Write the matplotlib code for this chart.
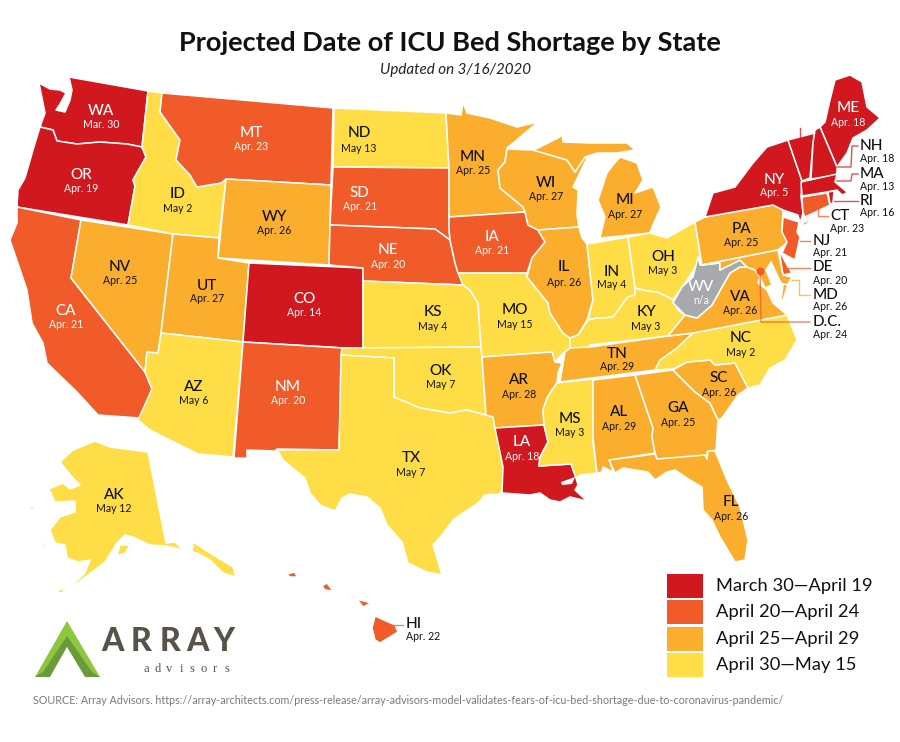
import matplotlib
matplotlib.use('Agg')
import matplotlib.pyplot as plt

plt.rcParams['font.family'] = ['Lato', 'DejaVu Sans']

# Data
states = ['WA', 'OR', 'CA', 'NV', 'ID', 'MT', 'WY', 'UT', 'CO', 'AZ', 'NM', 'ND', 'SD', 'NE', 'KS', 'OK', 'TX',
          'MN', 'IA', 'MO', 'AR', 'LA', 'WI', 'IL', 'MI', 'IN', 'OH', 'KY', 'TN', 'MS', 'AL', 'GA', 'SC', 'FL',
          'NC', 'VA', 'WV', 'PA', 'NY', 'ME', 'VT', 'NH', 'MA', 'RI', 'CT', 'NJ', 'DE', 'MD', 'D.C.', 'AK', 'HI']
dates = ['Mar. 30', 'Apr. 19', 'Apr. 21', 'Apr. 25', 'May 2', 'Apr. 23', 'Apr. 26', 'Apr. 27', 'Apr. 14', 'May 6',
         'Apr. 20', 'May 13', 'Apr. 21', 'Apr. 20', 'May 4', 'May 7', 'May 7',
         'Apr. 25', 'Apr. 21', 'May 15', 'Apr. 28', 'Apr. 18', 'Apr. 27', 'Apr. 26', 'Apr. 27', 'May 4', 'May 3',
         'May 3', 'Apr. 29', 'May 3', 'Apr. 29', 'Apr. 25', 'Apr. 26', 'Apr. 26',
         'May 2', 'Apr. 26', 'n/a', 'Apr. 25', 'Apr. 5', 'Apr. 18', 'Apr. 14', 'Apr. 18', 'Apr. 13', 'Apr. 16',
         'Apr. 23', 'Apr. 21', 'Apr. 20', 'Apr. 26', 'Apr. 24', 'May 12', 'Apr. 22']

legend_labels = ['March 30\u2014April 19', 'April 20\u2014April 24', 'April 25\u2014April 29', 'April 30\u2014May 15']
colors = ['#d2181f', '#f15a29', '#fbae2d', '#ffdd47']
na_color = '#a7a9ac'
source = ('SOURCE: Array Advisors. https://array-architects.com/press-release/array-advisors-model-validates-'
          'fears-of-icu-bed-shortage-due-to-coronavirus-pandemic/')

# State outlines
outlines = {
    'WA': [[(39, 83), (50, 89), (60, 90), (66, 93), (60, 104), (56, 110), (65, 112), (70, 100), (72, 90), (69, 77),
            (148, 91), (142, 147), (127, 144), (100, 142), (77, 144), (57, 141), (53, 130), (40, 127), (45, 113)]],
    'OR': [[(40, 127), (53, 130), (57, 141), (77, 144), (100, 142), (127, 144), (142, 147), (146, 157), (133, 180),
            (135, 186), (128, 225), (17, 207), (18, 190), (25, 178), (33, 150)]],
    'CA': [[(17, 207), (81, 220), (71, 278), (145, 372), (152, 389), (140, 418), (98, 415), (77, 392), (47, 363),
            (43, 343), (32, 323), (27, 290), (10, 240), (17, 223)]],
    'NV': [[(81, 220), (173, 234), (161, 333), (158, 353), (147, 352), (145, 372), (71, 278)]],
    'ID': [[(148, 91), (162, 93), (160, 112), (180, 140), (176, 160), (190, 175), (197, 187), (221, 183), (226, 179),
            (219, 238), (173, 234), (128, 225), (135, 186), (133, 180), (146, 157), (142, 147)]],
    'MT': [[(162, 93), (333, 108), (331, 185), (226, 179), (221, 183), (197, 187), (190, 175), (176, 160), (180, 140),
            (160, 112)]],
    'WY': [[(226, 179), (331, 185), (329, 265), (218, 258)]],
    'UT': [[(173, 234), (219, 238), (218, 258), (249, 263), (243, 342), (161, 333)]],
    'CO': [[(249, 263), (363, 268), (363, 349), (243, 342)]],
    'AZ': [[(161, 333), (243, 342), (233, 457), (198, 454), (150, 430), (138, 420), (152, 389), (145, 372), (147, 352),
            (158, 353)]],
    'NM': [[(243, 342), (342, 348), (339, 450), (277, 449), (275, 451), (247, 450), (247, 458), (234, 458)]],
    'ND': [[(334, 108), (446, 113), (449, 168), (333, 167)]],
    'SD': [[(333, 167), (449, 168), (449, 217), (449, 228), (450, 240), (435, 229), (330, 225)]],
    'NE': [[(330, 225), (435, 229), (450, 240), (455, 263), (463, 285), (363, 281), (363, 268), (329, 265)]],
    'KS': [[(363, 281), (463, 285), (470, 290), (478, 303), (481, 347), (363, 349)]],
    'OK': [[(342, 348), (481, 347), (482, 357), (486, 415), (467, 410), (450, 413), (420, 408), (394, 397), (394, 358),
            (341, 355)]],
    'TX': [[(341, 355), (394, 358), (394, 397), (420, 408), (450, 413), (467, 410), (486, 415), (493, 417), (495, 427),
            (505, 465), (503, 487), (500, 494), (485, 495), (478, 503), (460, 515), (453, 520), (442, 535), (433, 545),
            (437, 558), (442, 575), (427, 572), (408, 563), (402, 542), (387, 525), (380, 508), (367, 497), (350, 494),
            (342, 498), (335, 511), (320, 505), (310, 493), (305, 478), (283, 460), (277, 450), (339, 450)]],
    'MN': [[(446, 113), (461, 115), (463, 102), (467, 113), (490, 118), (517, 127), (538, 122), (507, 148), (505, 162),
            (498, 170), (500, 188), (523, 207), (525, 212), (449, 217), (449, 168)]],
    'IA': [[(449, 217), (525, 212), (528, 225), (538, 230), (545, 242), (532, 258), (527, 273), (458, 273), (455, 263),
            (450, 240), (449, 228)]],
    'MO': [[(458, 273), (527, 273), (527, 277), (548, 303), (550, 313), (563, 333), (570, 338), (570, 348), (563, 353),
            (555, 362), (552, 352), (482, 357), (481, 347), (478, 303), (470, 290), (463, 285)]],
    'AR': [[(482, 357), (552, 352), (555, 362), (562, 363), (558, 373), (557, 383), (552, 390), (547, 398), (543, 410),
            (544, 425), (495, 428), (493, 417), (486, 415)]],
    'LA': [[(495, 428), (544, 425), (548, 442), (540, 457), (539, 466), (571, 464), (576, 478), (578, 485), (575, 490),
            (587, 501), (570, 497), (560, 502), (550, 500), (540, 493), (530, 495), (502, 493), (503, 467)]],
    'WI': [[(507, 149), (533, 150), (567, 160), (575, 172), (583, 157), (587, 158), (573, 187), (578, 190), (577, 215),
            (579, 227), (538, 230), (528, 225), (525, 212), (523, 207), (500, 188), (498, 170), (505, 162)]],
    'IL': [[(538, 230), (579, 227), (582, 238), (587, 244), (593, 300), (587, 320), (578, 335), (570, 338), (563, 333),
            (550, 313), (548, 303), (527, 277), (532, 258), (545, 242)]],
    'MI': [[(540, 147), (558, 138), (562, 135), (563, 142), (590, 143), (607, 143), (627, 143), (635, 150), (617, 153),
            (597, 153), (585, 157), (575, 172), (567, 160), (533, 150)],
           [(598, 200), (607, 173), (613, 165), (620, 157), (637, 163), (643, 180), (635, 193), (653, 187), (661, 207),
            (652, 227), (650, 233), (600, 238), (605, 217)]],
    'IN': [[(587, 244), (628, 237), (635, 288), (635, 295), (628, 297), (623, 303), (620, 308), (613, 317), (603, 318),
            (597, 318), (588, 320), (593, 300)]],
    'OH': [[(628, 237), (650, 233), (667, 238), (695, 222), (700, 255), (698, 263), (687, 280), (673, 300), (668, 297),
            (657, 292), (647, 291), (635, 288)]],
    'KY': [[(635, 288), (647, 291), (657, 292), (668, 297), (673, 300), (678, 310), (685, 315), (668, 336), (590, 345),
            (588, 348), (570, 348), (570, 338), (578, 335), (588, 320), (597, 318), (603, 318), (613, 317), (620, 308),
            (623, 303), (628, 297), (635, 295)]],
    'TN': [[(590, 347), (668, 336), (693, 333), (677, 348), (655, 370), (560, 382), (565, 352), (570, 348)]],
    'MS': [[(557, 383), (593, 379), (593, 443), (597, 473), (580, 475), (576, 478), (571, 464), (539, 466), (540, 457),
            (548, 442), (544, 425), (543, 410), (547, 398), (552, 390)]],
    'AL': [[(593, 380), (635, 375), (653, 428), (652, 437), (655, 453), (610, 460), (613, 472), (603, 467), (602, 472),
            (597, 473), (593, 437)]],
    'GA': [[(635, 375), (673, 370), (680, 377), (695, 392), (710, 403), (718, 420), (716, 450), (707, 452), (707, 458),
            (657, 459), (655, 453), (652, 437), (653, 428)]],
    'SC': [[(673, 370), (687, 362), (710, 360), (715, 365), (735, 363), (748, 388), (738, 395), (722, 418), (718, 420),
            (710, 403), (695, 392), (680, 377)]],
    'FL': [[(609, 460), (655, 454), (657, 459), (705, 455), (707, 459), (708, 451), (715, 451), (727, 480), (740, 507),
            (748, 540), (745, 560), (735, 562), (720, 537), (712, 520), (703, 510), (702, 487), (690, 480), (675, 470),
            (667, 472), (655, 480), (648, 472), (623, 468), (615, 473)]],
    'NC': [[(655, 370), (660, 360), (677, 348), (693, 333), (787, 315), (797, 340), (785, 360), (770, 368), (760, 385),
            (748, 388), (735, 363), (715, 365), (710, 360), (687, 362), (673, 369)]],
    'VA': [[(668, 336), (685, 315), (697, 318), (712, 305), (722, 287), (730, 273), (740, 267), (747, 267), (755, 270),
            (760, 277), (758, 283), (767, 290), (773, 303), (787, 315), (693, 333)],
           [(790, 278), (783, 300), (781, 300), (783, 285)]],
    'WV': [[(698, 257), (700, 265), (720, 263), (720, 270), (740, 260), (747, 267), (740, 267), (730, 273), (722, 287),
            (712, 305), (697, 318), (685, 315), (673, 303), (682, 287), (693, 277)]],
    'PA': [[(695, 222), (705, 217), (773, 205), (783, 210), (782, 232), (790, 240), (778, 250), (702, 265)]],
    'NY': [[(705, 217), (713, 193), (735, 187), (753, 163), (767, 147), (788, 140), (802, 181), (801, 197), (803, 213),
            (800, 223), (798, 215), (783, 210), (773, 205)]],
    'ME': [[(820, 127), (825, 122), (830, 100), (835, 80), (850, 75), (862, 82), (867, 107), (880, 118), (867, 130),
            (853, 138), (847, 153), (837, 167)]],
    'VT': [[(788, 140), (815, 133), (813, 143), (810, 178), (802, 181)]],
    'NH': [[(815, 130), (820, 127), (837, 167), (837, 175), (811, 179), (813, 143)]],
    'MA': [[(801, 182), (837, 174), (835, 182), (847, 192), (853, 190), (842, 195), (837, 190), (827, 192), (802, 196)]],
    'RI': [[(828, 192), (834, 191), (833, 203), (830, 204)]],
    'CT': [[(802, 197), (827, 193), (830, 205), (805, 217), (803, 213)],
           [(800, 225), (818, 215), (805, 225)]],
    'NJ': [[(783, 217), (799, 222), (797, 232), (800, 237), (795, 260), (782, 253), (787, 242), (782, 232)]],
    'DE': [[(779, 250), (788, 267), (792, 273), (783, 275)]],
    'MD': [[(702, 265), (778, 250), (783, 275), (792, 277), (787, 285), (781, 283), (771, 262), (766, 270), (772, 285),
            (765, 288), (760, 277), (755, 270), (747, 267), (740, 260), (720, 270), (720, 263)]],
    'AK': [[(60, 462), (73, 450), (95, 441), (110, 447), (148, 452), (166, 543), (175, 542), (180, 547), (192, 553),
            (193, 542), (210, 553), (233, 567), (236, 577), (223, 573), (210, 560), (197, 553), (166, 546), (150, 545),
            (133, 537), (125, 535), (117, 543), (105, 562), (88, 575), (69, 589), (72, 585), (85, 573), (90, 560),
            (78, 562), (67, 558), (65, 545), (55, 543), (50, 530), (60, 517), (75, 512), (75, 501), (55, 502), (49, 489),
            (63, 483), (70, 489), (80, 485), (73, 478)],
           [(120, 545), (130, 545), (125, 553), (117, 556)],
           [(102, 577), (112, 573), (108, 577)],
           [(57, 591), (62, 589), (65, 592), (59, 593)],
           [(43, 600), (49, 597), (46, 600)],
           [(28, 505), (33, 507), (35, 511), (30, 508)],
           [(41, 543), (46, 543), (45, 546)]],
    'HI': [[(375, 616), (395, 625), (398, 632), (380, 643), (375, 640), (372, 628)],
           [(357, 599), (371, 603), (363, 607)],
           [(322, 586), (327, 583), (333, 591), (325, 590)],
           [(287, 574), (295, 572), (297, 577), (290, 577)],
           [(343, 594), (353, 595), (345, 596)]],
}

# Label spots: x, y of the code, y of the date
label_xy = {
    'WA': (101, 111, 125), 'OR': (81, 175, 188), 'CA': (66, 311, 325), 'NV': (120, 267, 281), 'ID': (178, 194, 208),
    'MT': (251, 133, 147), 'WY': (274, 217, 231), 'UT': (207, 286, 299), 'CO': (304, 299, 313), 'AZ': (194, 387, 401),
    'NM': (288, 387, 401), 'ND': (359, 133, 148), 'SD': (360, 193, 207), 'NE': (388, 250, 264), 'KS': (433, 312, 326),
    'OK': (441, 371, 385), 'TX': (411, 458, 473), 'MN': (473, 157, 171), 'IA': (492, 237, 251), 'MO': (515, 310, 324),
    'AR': (519, 380, 394), 'LA': (522, 442, 456), 'WI': (546, 183, 197), 'IL': (564, 267, 282), 'MI': (625, 200, 214),
    'IN': (612, 272, 285), 'OH': (663, 257, 271), 'KY': (646, 312, 326), 'TN': (617, 354, 367), 'MS': (570, 419, 433),
    'AL': (619, 412, 426), 'GA': (678, 408, 422), 'SC': (719, 378, 392), 'FL': (731, 502, 517), 'NC': (741, 338, 352),
    'VA': (740, 297, 310), 'WV': (701, 287, 301), 'PA': (741, 229, 243), 'NY': (774, 180, 193), 'ME': (848, 108, 122),
    'VT': (798, 111, 123), 'AK': (114, 495, 509),
}
# Labels outside the state, left aligned
side_xy = {
    'NH': (860, 146, 158), 'MA': (860, 174, 187), 'RI': (860, 201, 213), 'CT': (830, 216, 229), 'NJ': (813, 241, 253),
    'DE': (813, 267, 280), 'MD': (813, 295, 307), 'D.C.': (813, 322, 335), 'HI': (406, 624, 637),
}
leaders = {
    'VT': [(800, 128), (800, 137)],
    'NH': [(858, 146), (852, 146), (851, 167), (837, 167)],
    'MA': [(858, 174), (852, 174), (851, 181), (837, 181)],
    'RI': [(858, 201), (834, 201)],
    'CT': [(818, 208), (818, 216), (828, 216)],
    'NJ': [(810, 241), (800, 241)],
    'DE': [(810, 268), (787, 268)],
    'MD': [(810, 295), (799, 295), (799, 280), (792, 280)],
    'D.C.': [(760, 271), (761, 322), (810, 322)],
    'HI': [(403, 625), (390, 625)],
}


def date_color(date):
    # pick the legend bucket for a date label
    if date == 'n/a':
        return na_color
    month, day = date.split()
    day = int(day)
    if month == 'Mar.' or (month == 'Apr.' and day <= 19):
        return colors[0]
    if month == 'Apr.' and day <= 24:
        return colors[1]
    if month == 'Apr.' and day <= 29:
        return colors[2]
    return colors[3]


fig = plt.figure(figsize=(9, 7.42), dpi=100)
ax = fig.add_axes([0, 0, 1, 1])
ax.set_xlim(0, 900)
ax.set_ylim(742, 0)
ax.axis('off')

state_date = dict(zip(states, dates))

# Map
for name, parts in outlines.items():
    for part in parts:
        xs, ys = zip(*part)
        ax.fill(xs, ys, facecolor=date_color(state_date[name]), edgecolor='white', linewidth=1.1, joinstyle='round')
# Lake Pontchartrain
ax.fill([561, 575, 572, 562], [482, 477, 484, 485], color='white', linewidth=0)

# Leaders
for name, pts in leaders.items():
    xs, ys = zip(*pts)
    ax.plot(xs, ys, color=date_color(state_date[name]), linewidth=1, alpha=0.75, zorder=3)
ax.scatter([760], [271], s=32, color=colors[1], zorder=4, linewidths=0)

# State labels
light_text = {colors[0], colors[1], na_color}
for name, (x, y1, y2) in label_xy.items():
    tc = 'white' if date_color(state_date[name]) in light_text else '#111111'
    ax.text(x, y1, name, ha='center', va='center', fontsize=11, fontweight='medium', color=tc, zorder=5)
    ax.text(x, y2, state_date[name], ha='center', va='center', fontsize=7.6, color=tc, zorder=5)
for name, (x, y1, y2) in side_xy.items():
    ax.text(x, y1, name, ha='left', va='center', fontsize=11, fontweight='medium', color='#111111', zorder=5)
    ax.text(x, y2, state_date[name], ha='left', va='center', fontsize=7.6, color='#111111', zorder=5)

# Titles
ax.text(450, 43, 'Projected Date of ICU Bed Shortage by State', ha='center', va='center', fontsize=19.5,
        fontweight='bold', color='#111111')
ax.text(455, 70, 'Updated on 3/16/2020', ha='center', va='center', fontsize=10.9, style='italic', color='#222222')

# Legend
for i, (label, c) in enumerate(zip(legend_labels, colors)):
    top = 573.5 + i * 26.6
    ax.fill([667, 703, 703, 667], [top, top, top + 24, top + 24], color=c, linewidth=0)
    ax.text(716, top + 12, label, ha='left', va='center', fontsize=13.2, color='#111111')

# Logo
ax.fill([35, 67, 100], [677, 621, 677], color='#8dc63f', linewidth=0)
ax.fill([67, 92, 100, 85, 67, 50, 35, 43], [636, 672, 677, 677, 647, 677, 677, 672], color='#6a9a3a', linewidth=0)
ax.fill([67, 50, 85], [647, 677, 677], color='white', linewidth=0)
for letter, x in zip('ARRAY', [113, 141, 170, 198, 224]):
    ax.text(x, 641.5, letter, ha='center', va='center', fontsize=23, fontweight='black', color='#57534a')
for letter, x in zip('advisors', [146, 158, 169, 181, 192, 204, 215, 227]):
    ax.text(x, 669, letter, ha='center', va='center', fontsize=9, family='Liberation Serif', color='#57534a')

# Source
ax.text(33, 701, source, ha='left', va='center', fontsize=7.74, color='#7a7a7a')

fig.savefig('out.png', dpi=100)
